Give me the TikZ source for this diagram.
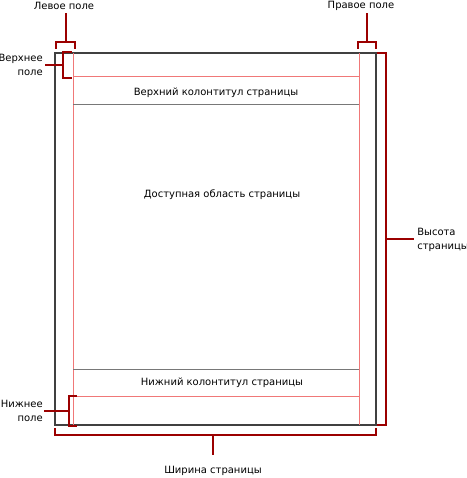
\documentclass[tikz,border=0pt]{standalone}
\usepackage{fontspec}
\setmainfont{DejaVu Sans}
\definecolor{pagegray}{RGB}{64,64,64}
\definecolor{sepgray}{RGB}{120,120,120}
\definecolor{marginred}{RGB}{240,120,120}
\definecolor{brkred}{RGB}{155,0,0}
\begin{document}
\begin{tikzpicture}[x=0.75pt,y=-0.75pt,
  pageline/.style={draw=pagegray,line width=0.9pt},
  sepline/.style={draw=sepgray,line width=0.75pt},
  marginline/.style={draw=marginred,line width=0.75pt},
  brk/.style={draw=brkred,line width=1.5pt},
  lbl/.style={inner sep=0pt,font=\fontsize{7.5pt}{10pt}\selectfont,text=black},
  lblr/.style={lbl,align=right,anchor=east},
  lbll/.style={lbl,align=left,anchor=west}]
\useasboundingbox (0,0) rectangle (467,478);
% page
\draw[pageline] (55,53) rectangle (376,425);
% margins
\draw[marginline] (73,53) -- (73,425);
\draw[marginline] (359,53) -- (359,425);
\draw[marginline] (73,77) -- (359,77);
\draw[marginline] (73,396) -- (359,396);
% header / footer separators
\draw[sepline] (73,104) -- (359,104);
\draw[sepline] (73,369) -- (359,369);
% texts inside
\node[lbl] (hdr) at (216,92.5) {Верхний колонтитул страницы};
\node[lbl] (body) at (222,195) {Доступная область страницы};
\node[lbl] (ftr) at (222,383) {Нижний колонтитул страницы};
% left margin
\node[lbl] (lm) at (64,6) {Левое поле};
\coordinate (lmstem) at (66,13);
\draw[brk] (56,49) -- (56,42) -- (75,42) -- (75,49);
\draw[brk] (66,42) -- (lmstem);
% right margin
\node[lbl] (rm) at (361,6) {Правое поле};
\coordinate (rmstem) at (367,13);
\draw[brk] (358,49) -- (358,42) -- (376,42) -- (376,49);
\draw[brk] (367,42) -- (rmstem);
% top margin
\node[lblr] (tm) at (43,65) {Верхнее\\поле};
\coordinate (tmstem) at (45,65);
\draw[brk] (72,52) -- (63,52) -- (63,78) -- (72,78);
\draw[brk] (63,65) -- (tmstem);
% bottom margin
\node[lblr] (bm) at (43,411) {Нижнее\\поле};
\coordinate (bmstem) at (44,411);
\draw[brk] (77,396) -- (69,396) -- (69,426) -- (77,426);
\draw[brk] (69,411) -- (bmstem);
% page width
\node[lbl] (pw) at (213,471) {Ширина страницы};
\coordinate (pwstem) at (213,455);
\draw[brk] (55,428) -- (55,435) -- (376,435) -- (376,428);
\draw[brk] (213,435) -- (pwstem);
% page height
\node[lbll] (ph) at (417,240) {Высота\\страницы};
\coordinate (phstem) at (414,239);
\draw[brk] (377,53) -- (386,53) -- (386,425) -- (377,425);
\draw[brk] (386,239) -- (phstem);
\end{tikzpicture}
\end{document}
